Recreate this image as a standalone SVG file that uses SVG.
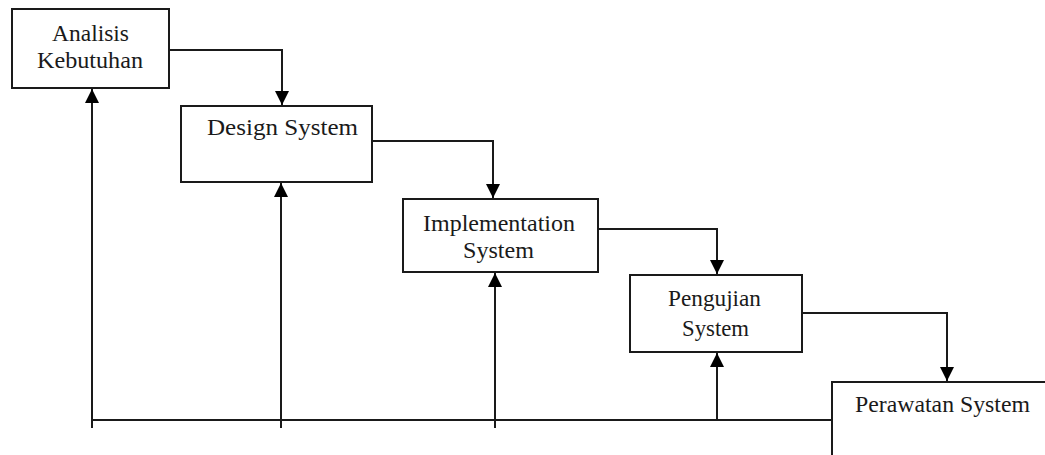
<svg xmlns="http://www.w3.org/2000/svg" width="1045" height="455" viewBox="0 0 1045 455">
<style>
.box{fill:#fff;stroke:#1a1a1a;stroke-width:2}
.ln{fill:none;stroke:#1a1a1a;stroke-width:2}
text{font-family:"Liberation Serif","Times New Roman",serif;font-size:23px;fill:#1a1a1a;text-anchor:middle}
</style>
<defs>
<marker id="ah" viewBox="0 0 14 16" refX="14" refY="8" markerWidth="14" markerHeight="16" markerUnits="userSpaceOnUse" orient="auto">
<path d="M0,1 L14,8 L0,15 Z" fill="#000"/>
</marker>
</defs>
<g id="connectors">
<path class="ln" d="M169,50 H282 V105" marker-end="url(#ah)"/>
<path class="ln" d="M372,141 H493 V198" marker-end="url(#ah)"/>
<path class="ln" d="M598,229 H717 V274" marker-end="url(#ah)"/>
<path class="ln" d="M802,313 H947 V381" marker-end="url(#ah)"/>
<path class="ln" d="M92,420 H832"/>
<path class="ln" d="M92,428 V89" marker-end="url(#ah)"/>
<path class="ln" d="M281,428 V183" marker-end="url(#ah)"/>
<path class="ln" d="M495,428 V273" marker-end="url(#ah)"/>
<path class="ln" d="M717,420 V353" marker-end="url(#ah)"/>
</g>
<g id="node-analisis">
<rect class="box" x="12" y="9" width="157" height="79"/>
<text x="90.5" y="41" textLength="77" lengthAdjust="spacingAndGlyphs">Analisis</text>
<text x="90" y="68" textLength="106" lengthAdjust="spacingAndGlyphs">Kebutuhan</text>
</g>
<g id="node-design">
<rect class="box" x="181" y="106" width="191" height="76"/>
<text x="282.5" y="135" textLength="151" lengthAdjust="spacingAndGlyphs">Design System</text>
</g>
<g id="node-implementation">
<rect class="box" x="403" y="199" width="195" height="73"/>
<text x="499" y="231" textLength="152" lengthAdjust="spacingAndGlyphs">Implementation</text>
<text x="498.5" y="258" textLength="71" lengthAdjust="spacingAndGlyphs">System</text>
</g>
<g id="node-pengujian">
<rect class="box" x="630" y="275" width="172" height="77"/>
<text x="714.5" y="306" textLength="93" lengthAdjust="spacingAndGlyphs">Pengujian</text>
<text x="715.5" y="336" textLength="67" lengthAdjust="spacingAndGlyphs">System</text>
</g>
<g id="node-perawatan">
<rect class="box" x="832" y="382" width="230" height="90"/>
<text x="942.5" y="412" textLength="175" lengthAdjust="spacingAndGlyphs">Perawatan System</text>
</g>
</svg>
